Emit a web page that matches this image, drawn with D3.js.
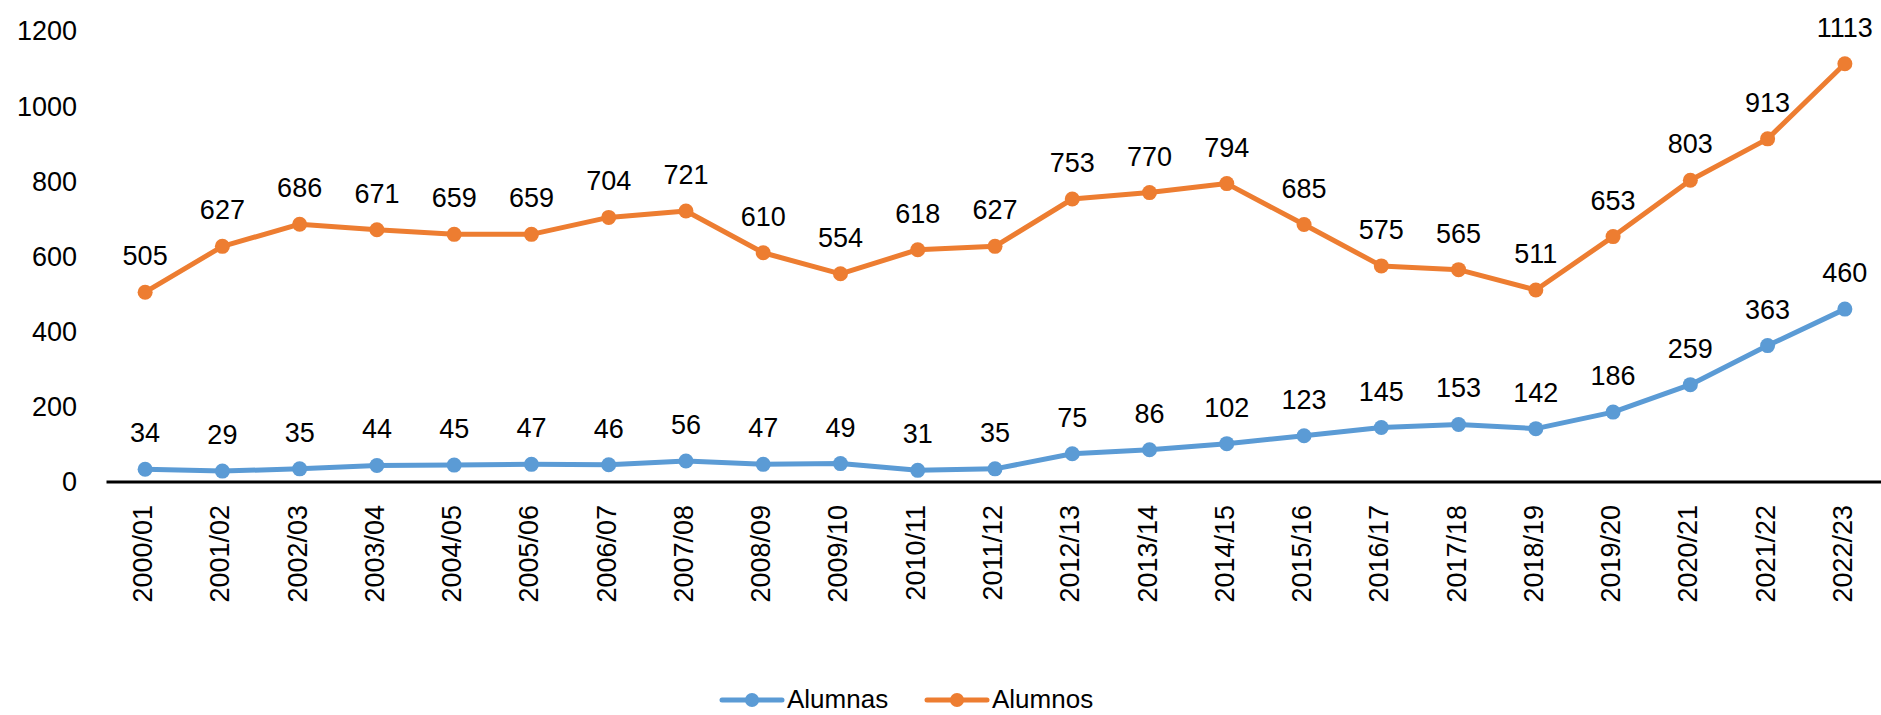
<!DOCTYPE html>
<html>
<head>
<meta charset="utf-8">
<script src="https://cdn.jsdelivr.net/npm/d3@7"></script>
<style>
  html, body { margin: 0; padding: 0; background: white; }
  svg { display: block; font-family: "Liberation Sans", Arial, sans-serif; }
</style>
</head>
<body>
<script>
// データ
const cursos = ["2000/01","2001/02","2002/03","2003/04","2004/05","2005/06","2006/07","2007/08",
  "2008/09","2009/10","2010/11","2011/12","2012/13","2013/14","2014/15","2015/16","2016/17",
  "2017/18","2018/19","2019/20","2020/21","2021/22","2022/23"];
const alumnas = [34,29,35,44,45,47,46,56,47,49,31,35,75,86,102,123,145,153,142,186,259,363,460];
const alumnos = [505,627,686,671,659,659,704,721,610,554,618,627,753,770,794,685,575,565,511,653,803,913,1113];
const yTicks = [0,200,400,600,800,1000,1200];

const series = [
  { name: "Alumnas", values: alumnas, color: "#5B9BD5" },
  { name: "Alumnos", values: alumnos, color: "#ED7D31" }
];

const width = 1881, height = 715;
const svg = d3.select("body").append("svg")
  .attr("width", width)
  .attr("height", height);

const x = d3.scaleBand().domain(cursos).range([106.5, 1883.5]);
const y = d3.scaleLinear().domain([0, 1200]).range([482, 31]);
const cx = d => x(d) + x.bandwidth() / 2;

// 縦軸ラベル
svg.append("g")
  .selectAll("text")
  .data(yTicks)
  .join("text")
  .attr("x", 77)
  .attr("y", d => y(d))
  .attr("dy", "0.35em")
  .attr("text-anchor", "end")
  .attr("font-size", "27px")
  .attr("fill", "#000")
  .text(d => d);

// 横軸
svg.append("line")
  .attr("x1", 106.5).attr("x2", 1881)
  .attr("y1", y(0)).attr("y2", y(0))
  .attr("stroke", "#000")
  .attr("stroke-width", 3);

svg.append("g")
  .selectAll("text")
  .data(cursos)
  .join("text")
  .attr("transform", d => `translate(${cx(d) + 7},505) rotate(-90)`)
  .attr("text-anchor", "end")
  .attr("font-size", "27px")
  .attr("fill", "#000")
  .text(d => d);

// 折れ線
const line = d3.line()
  .x((d, i) => cx(cursos[i]))
  .y(d => y(d));

series.forEach(s => {
  svg.append("path")
    .datum(s.values)
    .attr("d", line)
    .attr("fill", "none")
    .attr("stroke", s.color)
    .attr("stroke-width", 5)
    .attr("stroke-linejoin", "round")
    .attr("stroke-linecap", "round");

  svg.append("g")
    .selectAll("circle")
    .data(s.values)
    .join("circle")
    .attr("cx", (d, i) => cx(cursos[i]))
    .attr("cy", d => y(d))
    .attr("r", 7.5)
    .attr("fill", s.color);

  svg.append("g")
    .selectAll("text")
    .data(s.values)
    .join("text")
    .attr("x", (d, i) => cx(cursos[i]))
    .attr("y", d => y(d) - 27)
    .attr("text-anchor", "middle")
    .attr("font-size", "27px")
    .attr("fill", "#000")
    .text(d => d);
});

// 凡例
const legend = [
  { x: 722, s: series[0] },
  { x: 927, s: series[1] }
];
legend.forEach(l => {
  const g = svg.append("g");
  g.append("line")
    .attr("x1", l.x).attr("x2", l.x + 60)
    .attr("y1", 700).attr("y2", 700)
    .attr("stroke", l.s.color)
    .attr("stroke-width", 5)
    .attr("stroke-linecap", "round");
  g.append("circle")
    .attr("cx", l.x + 30).attr("cy", 700)
    .attr("r", 7)
    .attr("fill", l.s.color);
  g.append("text")
    .attr("x", l.x + 65).attr("y", 708)
    .attr("font-size", "26px")
    .attr("fill", "#000")
    .text(l.s.name);
});
</script>
</body>
</html>
